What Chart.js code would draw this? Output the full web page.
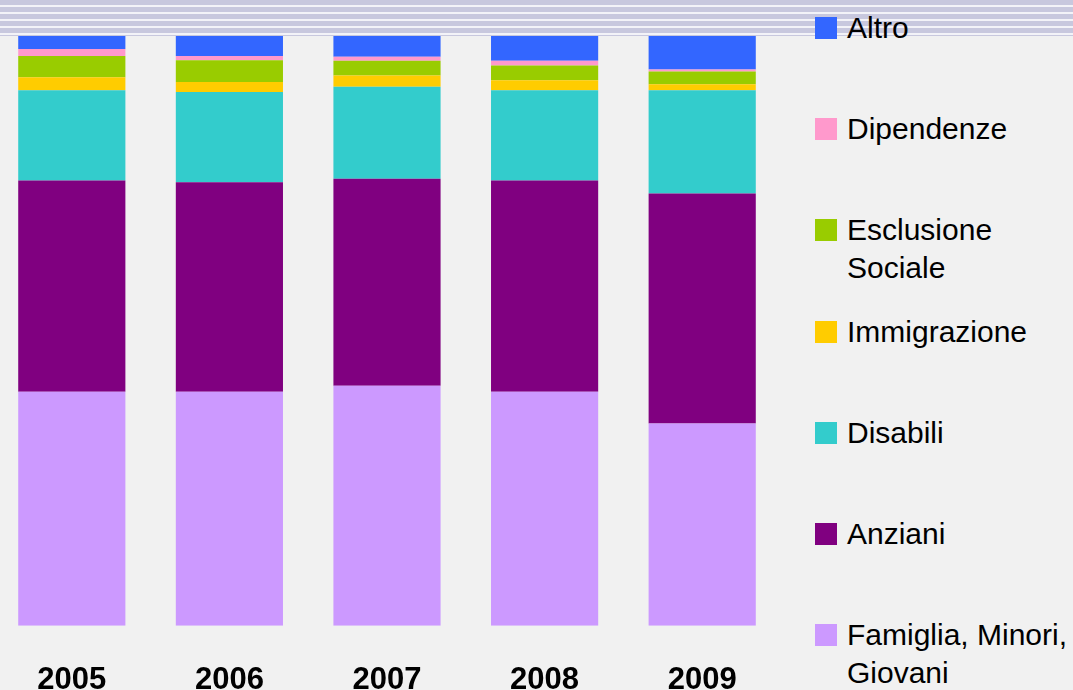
<!DOCTYPE html>
<html lang="it">
<head>
<meta charset="utf-8">
<title>Interventi per area</title>
<script src="https://cdn.jsdelivr.net/npm/chart.js@4.4.1/dist/chart.umd.min.js"></script>
<style>
  html, body {
    margin: 0;
    padding: 0;
    width: 1073px;
    height: 690px;
    overflow: hidden;
    background: #f1f1f1;
    font-family: "Liberation Sans", Arial, sans-serif;
  }
  #fascia {
    position: absolute;
    left: 0;
    top: 0;
    width: 1073px;
    height: 36px;
    background: repeating-linear-gradient(to bottom, #c8c8de 0px, #c8c8de 5px, #f3f3f8 5px, #f3f3f8 7px);
  }
  #grafico {
    position: absolute;
    left: -7px;
    top: 0;
  }
  #legenda {
    position: absolute;
    left: 815px;
    top: 0;
    width: 258px;
  }
  .voce {
    position: absolute;
    left: 0;
    display: flex;
    align-items: flex-start;
    font-size: 30px;
    line-height: 38px;
    color: #000;
    white-space: pre-line;
  }
  .quadrato {
    width: 22px;
    height: 22px;
    margin-top: 8px;
    margin-right: 10px;
    flex: none;
  }
</style>
</head>
<body>
<div id="fascia"></div>
<canvas id="grafico" width="788" height="690"></canvas>
<div id="legenda"></div>

<script>
// Dati (percentuali per anno)
const anni = ["2005", "2006", "2007", "2008", "2009"];
const famiglia = [39.7, 39.7, 40.7, 39.7, 34.3];
const anziani = [35.8, 35.5, 35.1, 35.8, 39.0];
const disabili = [15.3, 15.3, 15.6, 15.3, 17.5];
const immigrazione = [2.2, 1.7, 1.9, 1.7, 1.0];
const esclusione = [3.6, 3.7, 2.5, 2.5, 2.2];
const dipendenze = [1.2, 0.7, 0.7, 0.8, 0.3];
const altro = [2.2, 3.4, 3.5, 4.2, 5.7];

const etichette = [
  "Famiglia, Minori,\nGiovani",
  "Anziani",
  "Disabili",
  "Immigrazione",
  "Esclusione\nSociale",
  "Dipendenze",
  "Altro",
];
const colori = ["#cc99ff", "#800080", "#33cccc", "#ffcc00", "#99cc00", "#ff99cc", "#3366ff"];

document.addEventListener("DOMContentLoaded", function () {
  const grafico = creaGrafico();
  creaLegenda(grafico);
});

// Grafico a barre impilate
function creaGrafico() {
  const serie = [famiglia, anziani, disabili, immigrazione, esclusione, dipendenze, altro];
  const ctx = document.getElementById("grafico").getContext("2d");

  return new Chart(ctx, {
    type: "bar",
    data: {
      labels: anni,
      datasets: serie.map((valori, i) => ({
        label: etichette[i],
        data: valori,
        backgroundColor: colori[i],
        borderWidth: 0,
        barPercentage: 0.68,
        categoryPercentage: 1,
      })),
    },
    options: {
      responsive: false,
      animation: false,
      layout: {
        padding: { top: 36, left: 0, right: 0, bottom: -37 },
      },
      plugins: {
        legend: { display: false },
        tooltip: { enabled: false },
      },
      scales: {
        x: {
          stacked: true,
          border: { display: false },
          grid: { display: false },
          ticks: {
            color: "#000",
            padding: 28,
            font: {
              family: "'Liberation Sans', Arial, sans-serif",
              size: 31,
              weight: "bold",
            },
          },
        },
        y: {
          stacked: true,
          display: false,
          min: 0,
          max: 100,
        },
      },
    },
  });
}

// Legenda a destra, dall'alto verso il basso (ordine inverso delle serie)
function creaLegenda(grafico) {
  const contenitore = document.getElementById("legenda");
  const dataset = grafico.data.datasets.slice().reverse();
  dataset.forEach((ds, i) => {
    const voce = document.createElement("div");
    voce.className = "voce";
    voce.style.top = 9 + i * 101.2 + "px";
    const quadrato = document.createElement("span");
    quadrato.className = "quadrato";
    quadrato.style.background = ds.backgroundColor;
    const testo = document.createElement("span");
    testo.textContent = ds.label;
    voce.appendChild(quadrato);
    voce.appendChild(testo);
    contenitore.appendChild(voce);
  });
}
</script>
</body>
</html>
